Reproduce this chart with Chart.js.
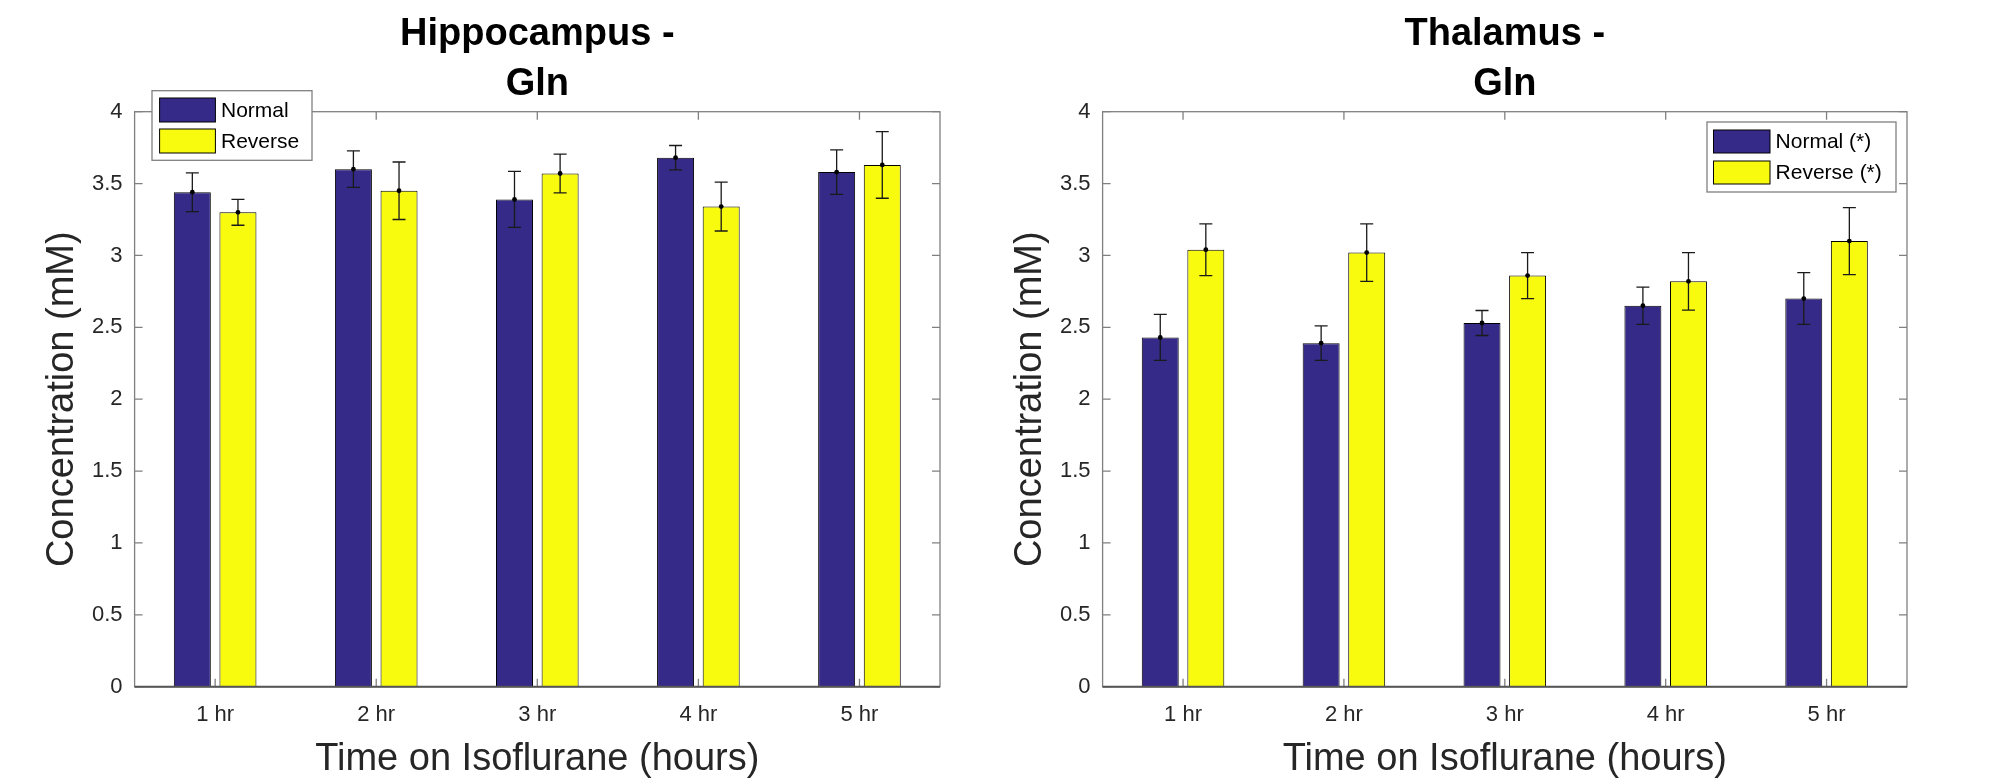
<!DOCTYPE html>
<html><head><meta charset="utf-8">
<script src="https://cdn.jsdelivr.net/npm/chart.js@4.4.0/dist/chart.umd.min.js"></script>
<style>
html,body{margin:0;padding:0;background:#fff;}
#wrap{position:relative;width:2000px;height:781px;background:#fff;}
canvas{position:absolute;top:0;}
</style></head><body>
<div id="wrap">
<canvas id="c1" width="1000" height="781" style="left:0;width:1000px;height:781px"></canvas>
<canvas id="c2" width="1000" height="781" style="left:1000px;width:1000px;height:781px"></canvas>
</div>
<script>
// ---- data ----
const categories = ['1 hr', '2 hr', '3 hr', '4 hr', '5 hr'];
const yTickLabels = ['0', '0.5', '1', '1.5', '2', '2.5', '3', '3.5', '4'];

const hippoNormal      = [3.44, 3.60, 3.39, 3.68, 3.58];
const hippoNormalErr   = [0.135, 0.127, 0.195, 0.085, 0.155];
const hippoReverse     = [3.30, 3.45, 3.57, 3.34, 3.63];
const hippoReverseErr  = [0.09, 0.20, 0.135, 0.17, 0.232];

const thalNormal       = [2.43, 2.39, 2.53, 2.65, 2.70];
const thalNormalErr    = [0.16, 0.12, 0.087, 0.13, 0.18];
const thalReverse      = [3.04, 3.02, 2.86, 2.82, 3.10];
const thalReverseErr   = [0.18, 0.20, 0.16, 0.20, 0.233];

const FONT = '"Liberation Sans", Arial, Helvetica, sans-serif';
const NAVY = '#352a87';
const YELLOW = '#f9fb0e';
const TXT = '#262626';
const AXW = 60;   // reserved width for y tick labels
const AXH = 60;   // reserved height for x tick labels

// ---- plugins ----
const framePlugin = {
  id: 'frame',
  afterDatasetsDraw(chart) {
    const {ctx, chartArea: a, scales: {x, y}} = chart;
    ctx.save();
    ctx.strokeStyle = '#808080';
    ctx.lineWidth = 1.3;
    ctx.strokeRect(a.left, a.top, a.right - a.left, a.bottom - a.top);
    ctx.beginPath();
    y.ticks.forEach(t => {
      const py = y.getPixelForValue(t.value);
      ctx.moveTo(a.left, py); ctx.lineTo(a.left + 8, py);
      ctx.moveTo(a.right, py); ctx.lineTo(a.right - 8, py);
    });
    x.ticks.forEach((t, i) => {
      const px = x.getPixelForValue(i);
      ctx.moveTo(px, a.top); ctx.lineTo(px, a.top + 8);
      ctx.moveTo(px, a.bottom); ctx.lineTo(px, a.bottom - 8);
    });
    ctx.stroke();
    ctx.strokeStyle = '#555555';
    ctx.lineWidth = 2;
    const p0 = y.getPixelForValue(0);
    ctx.beginPath(); ctx.moveTo(a.left, p0); ctx.lineTo(a.right, p0); ctx.stroke();
    ctx.restore();
  }
};

const errorBarPlugin = {
  id: 'errorBars',
  afterDatasetsDraw(chart) {
    const {ctx, scales: {y}} = chart;
    ctx.save();
    chart.data.datasets.forEach((ds, di) => {
      const meta = chart.getDatasetMeta(di);
      meta.data.forEach((bar, i) => {
        const v = ds.data[i], e = ds.errors[i];
        const px = bar.x;
        const yt = y.getPixelForValue(v + e), yb = y.getPixelForValue(v - e), ym = y.getPixelForValue(v);
        ctx.strokeStyle = '#1a1a1a';
        ctx.lineWidth = 1.3;
        ctx.beginPath();
        ctx.moveTo(px, yt); ctx.lineTo(px, yb);
        ctx.moveTo(px - 6.5, yt); ctx.lineTo(px + 6.5, yt);
        ctx.moveTo(px - 6.5, yb); ctx.lineTo(px + 6.5, yb);
        ctx.stroke();
        ctx.fillStyle = '#000';
        ctx.beginPath(); ctx.arc(px, ym, 2.4, 0, Math.PI * 2); ctx.fill();
      });
    });
    ctx.restore();
  }
};

const textPlugin = {
  id: 'texts',
  afterDraw(chart, args, o) {
    const {ctx, chartArea: a} = chart;
    const cx = (a.left + a.right) / 2;
    ctx.save();
    ctx.fillStyle = '#000';
    ctx.textAlign = 'center';
    ctx.textBaseline = 'alphabetic';
    ctx.font = 'bold 38px ' + FONT;
    o.title.forEach((line, i) => ctx.fillText(line, cx, 45 + i * 50));
    ctx.fillStyle = TXT;
    ctx.font = '38px ' + FONT;
    ctx.fillText(o.xLabel, cx, 770);
    ctx.translate(a.left - 61.3, (a.top + a.bottom) / 2);
    ctx.rotate(-Math.PI / 2);
    ctx.fillText(o.yLabel, 0, 0);
    ctx.restore();
  }
};

const legendPlugin = {
  id: 'boxLegend',
  afterDraw(chart, args, o) {
    const {ctx} = chart;
    ctx.save();
    ctx.fillStyle = '#fff';
    ctx.fillRect(o.x, o.y, o.w, o.h);
    ctx.strokeStyle = '#808080';
    ctx.lineWidth = 1.3;
    ctx.strokeRect(o.x, o.y, o.w, o.h);
    chart.data.datasets.forEach((ds, i) => {
      const sx = o.x + o.sx, sy = o.y + o.sy + i * o.step;
      ctx.fillStyle = ds.backgroundColor;
      ctx.fillRect(sx, sy, o.sw, o.sh);
      ctx.strokeStyle = '#000';
      ctx.lineWidth = 1;
      ctx.strokeRect(sx, sy, o.sw, o.sh);
      ctx.fillStyle = '#000';
      ctx.font = '21px ' + FONT;
      ctx.textAlign = 'left';
      ctx.textBaseline = 'middle';
      ctx.fillText(ds.label, o.x + o.tx, sy + o.sh / 2 + 1);
    });
    ctx.restore();
  }
};

function makeChart(id, area, normal, normalErr, reverse, reverseErr, labels, texts, legend) {
  return new Chart(document.getElementById(id), {
    type: 'bar',
    data: {
      labels: categories,
      datasets: [
        {label: labels[0], data: normal, errors: normalErr, backgroundColor: NAVY, borderColor: '#000', borderWidth: 1,
         categoryPercentage: 0.5665, barPercentage: 0.811},
        {label: labels[1], data: reverse, errors: reverseErr, backgroundColor: YELLOW, borderColor: '#000', borderWidth: 1,
         categoryPercentage: 0.5665, barPercentage: 0.811}
      ]
    },
    options: {
      responsive: false,
      animation: false,
      layout: {padding: {left: area.left - AXW, right: area.right, top: area.top, bottom: area.bottom - AXH}},
      plugins: {
        legend: {display: false},
        title: {display: false},
        tooltip: {enabled: false},
        texts: texts,
        boxLegend: legend
      },
      scales: {
        x: {
          grid: {display: false, drawTicks: false},
          border: {display: false},
          ticks: {color: TXT, font: {family: FONT, size: 22}, padding: 15, maxRotation: 0, autoSkip: false},
          afterFit(s) { s.height = AXH; }
        },
        y: {
          min: 0, max: 4,
          grid: {display: false, drawTicks: false},
          border: {display: false},
          ticks: {stepSize: 0.5, color: TXT, font: {family: FONT, size: 22}, padding: 12,
                  callback: (v, i) => yTickLabels[i]},
          afterFit(s) { s.width = AXW; }
        }
      }
    },
    plugins: [framePlugin, errorBarPlugin, textPlugin, legendPlugin]
  });
}

makeChart('c1', {left: 134.6, right: 60, top: 111.7, bottom: 94.3},
  hippoNormal, hippoNormalErr, hippoReverse, hippoReverseErr,
  ['Normal', 'Reverse'],
  {title: ['Hippocampus -', 'Gln'], xLabel: 'Time on Isoflurane (hours)', yLabel: 'Concentration (mM)'},
  {x: 152, y: 90.7, w: 160, h: 69.6, sx: 7.6, sy: 7.3, sw: 55.8, sh: 24, step: 31, tx: 69});

makeChart('c2', {left: 102.6, right: 93, top: 111.7, bottom: 94.3},
  thalNormal, thalNormalErr, thalReverse, thalReverseErr,
  ['Normal (*)', 'Reverse (*)'],
  {title: ['Thalamus -', 'Gln'], xLabel: 'Time on Isoflurane (hours)', yLabel: 'Concentration (mM)'},
  {x: 707, y: 122, w: 189, h: 70, sx: 6.5, sy: 8, sw: 56.5, sh: 23, step: 31, tx: 68.6});
</script>
</body></html>
